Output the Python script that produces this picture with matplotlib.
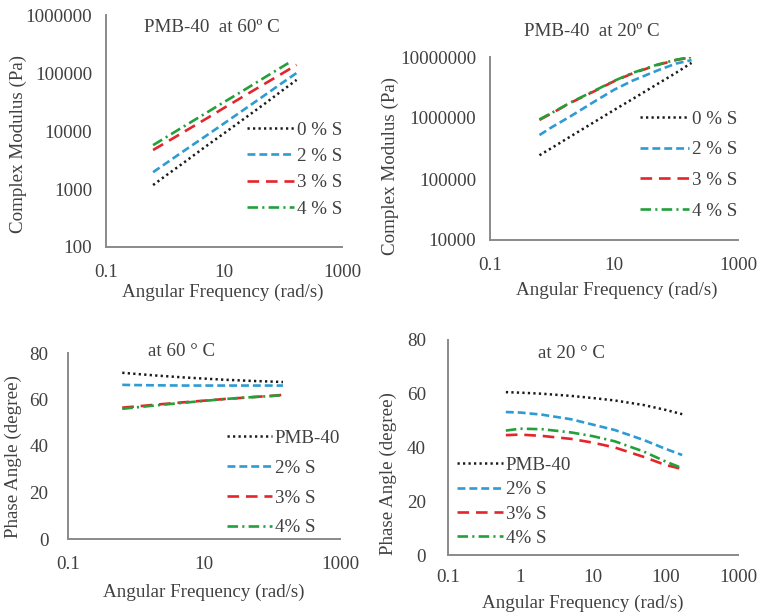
import matplotlib
matplotlib.use("Agg")
import matplotlib.pyplot as plt
from matplotlib.ticker import NullLocator

plt.rcParams['font.family'] = ['Liberation Serif', 'DejaVu Serif']
TXT = '#404040'
FS = 13.7

# ---------------- data ----------------
legend_mod = ["0 % S", "2 % S", "3 % S", "4 % S"]
legend_pa = ["PMB-40", "2% S", "3% S", "4% S"]

# Complex modulus at 60 C
freq_60 = [0.628, 1, 2, 5, 10, 20, 50, 100, 170]
freq_60_g = [0.628, 1, 2, 5, 10, 20, 50, 123]
mod60_0 = [1170, 1660, 2760, 5500, 9100, 15200, 30000, 51000, 76000]
mod60_2 = [1950, 2700, 4400, 8300, 13500, 22000, 42000, 69000, 100000]
mod60_3 = [4700, 6200, 9400, 16300, 25000, 38000, 66000, 100000, 138000]
mod60_4 = [5700, 7600, 11700, 20500, 31500, 48000, 85000, 148000]

# Complex modulus at 20 C
freq_20 = [0.628, 1, 2, 5, 10, 20, 50, 100, 178]
mod20_0 = [245000, 325000, 500000, 880000, 1.35e6, 2.05e6, 3.6e6, 5.5e6, 8.0e6]
mod20_2 = [525000, 710000, 1.07e6, 1.9e6, 2.9e6, 4.1e6, 6.0e6, 7.8e6, 8.9e6]
mod20_3 = [930000, 1.2e6, 1.78e6, 2.8e6, 4.0e6, 5.4e6, 7.4e6, 8.9e6, 1.0e7]
mod20_4 = [950000, 1.22e6, 1.8e6, 2.85e6, 4.05e6, 5.5e6, 7.5e6, 9.0e6, 1.0e7]

# Phase angle at 60 C
freq_p60 = [0.628, 1, 2, 5, 10, 20, 50, 100, 145]
pa60_0 = [71.5, 71.0, 70.3, 69.5, 69.0, 68.5, 68.0, 67.7, 67.5]
pa60_2 = [66.3, 66.2, 66.1, 66.0, 66.0, 66.0, 66.0, 66.0, 66.0]
pa60_3 = [56.5, 57.0, 57.8, 58.8, 59.5, 60.2, 61.0, 61.6, 62.0]
pa60_4 = [56.0, 56.6, 57.5, 58.6, 59.4, 60.2, 61.0, 61.5, 61.9]

# Phase angle at 20 C
freq_p20 = [0.628, 1, 2, 5, 10, 20, 50, 100, 170]
pa20_0 = [60.6, 60.4, 60.0, 59.2, 58.4, 57.5, 55.8, 54.0, 52.4]
pa20_2 = [53.2, 53.0, 52.2, 50.5, 48.5, 46.5, 42.8, 39.5, 37.2]
pa20_3 = [44.6, 44.8, 44.3, 43.2, 41.8, 40.0, 36.5, 33.5, 32.0]
pa20_4 = [46.3, 47.0, 46.8, 45.6, 44.2, 42.3, 38.5, 34.8, 32.3]

xt_main = [0.1, 10, 1000]
xtl_main = ["0.1", "10", "1000"]
xt_p20 = [0.1, 1, 10, 100, 1000]
xtl_p20 = ["0.1", "1", "10", "100", "1000"]
yt_m60 = [100, 1000, 10000, 100000, 1000000]
yt_m20 = [10000, 100000, 1000000, 10000000]
yt_pa = [0, 20, 40, 60, 80]

# ---------------- styles ----------------
STY = [
    dict(color='#1a1a1a', lw=1.8, ls=(0, (0.9, 1.3))),
    dict(color='#2f9bd3', lw=1.9, ls=(0, (3.0, 1.5))),
    dict(color='#e3262b', lw=1.9, ls=(0, (4.4, 2.6))),
    dict(color='#22a03a', lw=1.9, ls=(0, (4.0, 1.6, 0.8, 1.6))),
]

W, H = 760, 613
fig = plt.figure(figsize=(W / 100, H / 100), dpi=100)


def rect(l, t, r, b):
    return [l / W, 1 - b / H, (r - l) / W, (b - t) / H]


def style_ax(ax, xt, xtl, yt, ytl, xlim, ylim, logy, xpad, ypad):
    ax.set_xscale('log')
    if logy:
        ax.set_yscale('log')
    ax.set_xlim(*xlim)
    ax.set_ylim(*ylim)
    ax.set_xticks(xt)
    ax.set_xticklabels(xtl)
    ax.set_yticks(yt)
    ax.set_yticklabels(ytl)
    ax.xaxis.set_minor_locator(NullLocator())
    ax.yaxis.set_minor_locator(NullLocator())
    for s in ['top', 'right']:
        ax.spines[s].set_visible(False)
    for s in ['left', 'bottom']:
        ax.spines[s].set_color('#8a8a8a')
        ax.spines[s].set_linewidth(1.4)
    ax.tick_params(axis='x', length=0, pad=xpad, labelsize=FS, labelcolor=TXT)
    ax.tick_params(axis='y', length=0, pad=ypad, labelsize=FS, labelcolor=TXT)
    ax.patch.set_alpha(0)


def add_legend(ax, anchor, spacing, handlelen):
    leg = ax.legend(loc='upper left', bbox_to_anchor=(anchor[0] / W, 1 - anchor[1] / H),
                    bbox_transform=fig.transFigure, frameon=False, fontsize=FS,
                    handlelength=handlelen, handletextpad=0.15, labelspacing=spacing,
                    borderpad=0, borderaxespad=0, labelcolor=TXT)
    return leg


def ftext(x, y, s, **kw):
    fig.text(x / W, 1 - y / H, s, ha='center', va='center', fontsize=FS, color=TXT, **kw)


# Panel 1: modulus 60 C
ax1 = fig.add_axes(rect(106, 15, 342, 247))
ax1.plot(freq_60, mod60_0, label=legend_mod[0], **STY[0])
ax1.plot(freq_60, mod60_2, label=legend_mod[1], **STY[1])
ax1.plot(freq_60, mod60_3, label=legend_mod[2], **STY[2])
ax1.plot(freq_60_g, mod60_4, label=legend_mod[3], **STY[3])
style_ax(ax1, xt_main, xtl_main, yt_m60, [str(v) for v in yt_m60],
         (0.1, 1000), (100, 1000000), True, 12, 10)
add_legend(ax1, (247, 121.5), 0.47, 2.47)
ftext(212, 28, "PMB-40  at 60º C")
ftext(18, 144, "Complex Modulus (Pa)", rotation=90)
ftext(223, 292, "Angular Frequency (rad/s)")

# Panel 2: modulus 20 C
ax2 = fig.add_axes(rect(490, 57, 738, 240))
ax2.plot(freq_20, mod20_0, label=legend_mod[0], **STY[0])
ax2.plot(freq_20, mod20_2, label=legend_mod[1], **STY[1])
ax2.plot(freq_20, mod20_3, label=legend_mod[2], **STY[2])
ax2.plot(freq_20, mod20_4, label=legend_mod[3], **STY[3])
style_ax(ax2, xt_main, xtl_main, yt_m20, [str(int(v)) for v in yt_m20],
         (0.1, 1000), (10000, 10000000), True, 12, 10)
add_legend(ax2, (640, 110.5), 0.70, 2.6)
ftext(592, 32, "PMB-40  at 20º C")
ftext(390, 166, "Complex Modulus (Pa)", rotation=90)
ftext(617, 290, "Angular Frequency (rad/s)")

# Panel 3: phase angle 60 C
ax3 = fig.add_axes(rect(68, 353, 340, 539))
ax3.plot(freq_p60, pa60_0, label=legend_pa[0], **STY[0])
ax3.plot(freq_p60, pa60_2, label=legend_pa[1], **STY[1])
ax3.plot(freq_p60, pa60_3, label=legend_pa[2], **STY[2])
ax3.plot(freq_p60, pa60_4, label=legend_pa[3], **STY[3])
style_ax(ax3, xt_main, xtl_main, yt_pa, [str(v) for v in yt_pa],
         (0.1, 1000), (0, 80), False, 12, 14)
add_legend(ax3, (227, 429.5), 0.66, 2.37)
ftext(182, 352, "at 60 ° C")
ftext(13, 457, "Phase Angle (degree)", rotation=90)
ftext(204, 592, "Angular Frequency (rad/s)")

# Panel 4: phase angle 20 C
ax4 = fig.add_axes(rect(448, 340, 738, 555))
ax4.plot(freq_p20, pa20_0, label=legend_pa[0], **STY[0])
ax4.plot(freq_p20, pa20_2, label=legend_pa[1], **STY[1])
ax4.plot(freq_p20, pa20_3, label=legend_pa[2], **STY[2])
ax4.plot(freq_p20, pa20_4, label=legend_pa[3], **STY[3])
style_ax(ax4, xt_p20, xtl_p20, yt_pa, [str(v) for v in yt_pa],
         (0.1, 1000), (0, 80), False, 10, 16)
add_legend(ax4, (457, 456.5), 0.37, 2.42)
ftext(571, 353, "at 20 ° C")
ftext(388, 474, "Phase Angle (degree)", rotation=90)
ftext(583, 603, "Angular Frequency (rad/s)")

fig.savefig("out.png", dpi=100, facecolor='white')
